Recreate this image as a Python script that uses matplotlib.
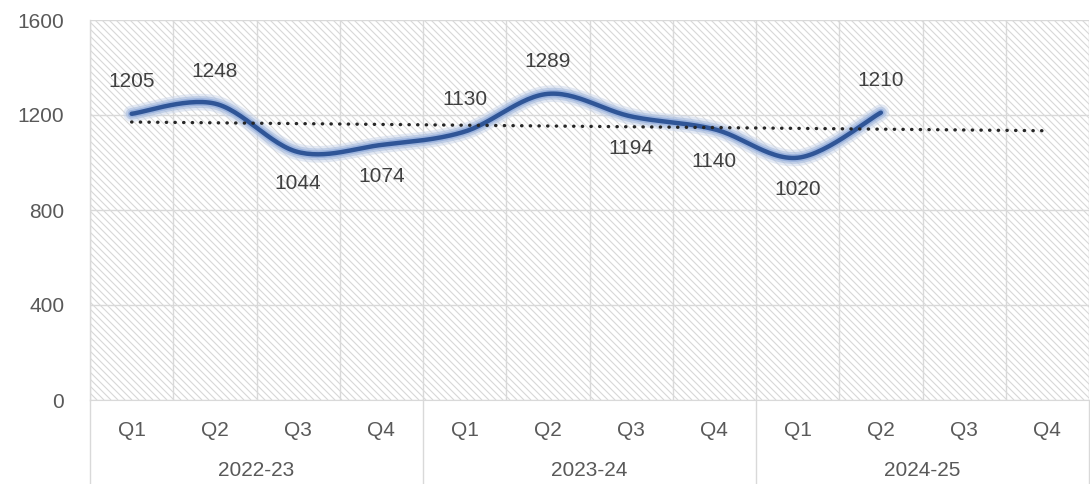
import matplotlib.pyplot as plt
import matplotlib.patheffects as pe
import matplotlib.transforms as mtransforms
from matplotlib.collections import LineCollection
import numpy as np

plt.rcParams['font.family'] = ['Liberation Sans', 'DejaVu Sans']

# data
years = ["2022-23", "2023-24", "2024-25"]
quarters = ["Q1", "Q2", "Q3", "Q4"]
values = [1205, 1248, 1044, 1074, 1130, 1289, 1194, 1140, 1020, 1210]
label_side = ["above", "above", "below", "below", "above", "above", "below", "below", "below", "above"]

n_cat = len(years) * len(quarters)
x = np.arange(len(values))
y = np.array(values, dtype=float)
FS = 15


def smooth(px, py, steps=30):
    # bezier smoothing like the spreadsheet "smoothed line"
    P = np.column_stack([px, py])
    out = [P[0]]
    for i in range(len(P) - 1):
        p0 = P[i - 1] if i > 0 else P[i]
        p1, p2 = P[i], P[i + 1]
        p3 = P[i + 2] if i + 2 < len(P) else P[i + 1]
        c1 = p1 + (p2 - p0) / 6
        c2 = p2 - (p3 - p1) / 6
        t = np.linspace(0, 1, steps)[1:, None]
        seg = (1 - t) ** 3 * p1 + 3 * (1 - t) ** 2 * t * c1 + 3 * (1 - t) * t ** 2 * c2 + t ** 3 * p2
        out.extend(seg)
    out = np.array(out)
    return out[:, 0], out[:, 1]


W, H = 1090, 484
fig = plt.figure(figsize=(W / 100, H / 100), dpi=100)
L, B, T = 90, 400, 20
ax = fig.add_axes([L / W, 1 - B / H, 999 / W, (B - T) / H])

# hatched plot area (display pixel coords)
step = 7
segs = []
for c in np.arange(L - (B - T), W + step, step):
    segs.append([(c, H - T), (c + (B - T), H - B)])
hatch = LineCollection(segs, colors='#d8d8d8', linewidths=0.8, transform=None, zorder=0)
ax.add_collection(hatch)
hatch.set_clip_path(ax.patch)

ax.set_xlim(-0.5, n_cat - 0.5)
ax.set_ylim(0, 1600)
ax.set_yticks([0, 400, 800, 1200, 1600])
ax.set_xticks(np.arange(n_cat))
ax.set_xticklabels(quarters * len(years))
ax.set_xticks(np.arange(-0.5, n_cat, 1), minor=True)
ax.tick_params(axis='both', length=0, labelsize=FS, labelcolor='#595959')
ax.tick_params(axis='x', which='major', pad=15)
ax.tick_params(axis='x', which='minor', length=0)
ax.tick_params(axis='y', pad=18.5)
ax.grid(axis='y', which='major', color='#d9d9d9', linewidth=1, zorder=1)
ax.grid(axis='x', which='minor', color='#d9d9d9', linewidth=1, zorder=1)
ax.set_axisbelow(True)
for s in ['top', 'right', 'left']:
    ax.spines[s].set_visible(False)
ax.spines['bottom'].set_color('#d9d9d9')

# line with glow
sx, sy = smooth(x, y)
ax.plot(sx, sy, color='#2f5597', linewidth=3.2, solid_capstyle='round', zorder=4,
        path_effects=[pe.Stroke(linewidth=12, foreground='#c9d5ea', alpha=0.5),
                      pe.Stroke(linewidth=8.5, foreground='#a9bddf', alpha=0.6),
                      pe.Stroke(linewidth=5.5, foreground='#8ea9db', alpha=0.7),
                      pe.Normal()])

# trend line
coef = np.polyfit(x, y, 1)
tx = np.arange(n_cat)
ax.plot(tx, np.polyval(coef, tx), color='#262626', linewidth=2.4,
        linestyle=(0, (0.1, 2.5)), dash_capstyle='round', zorder=5)

for xi, v, side in zip(x, values, label_side):
    off = 23 if side == "above" else -23
    ax.annotate(str(v), (xi, v), xytext=(0, off), textcoords='offset points',
                ha='center', va='center', fontsize=FS, color='#404040', zorder=6)

# multi-level category axis
trans = mtransforms.blended_transform_factory(ax.transData, ax.transAxes)
drop = -84 / 380
for b in np.arange(-0.5, n_cat + 0.5, len(quarters)):
    ax.plot([b, b], [0, drop], color='#d9d9d9', linewidth=1, transform=trans, clip_on=False)
ax.plot([-0.5, -0.5], [0, 1], color='#d9d9d9', linewidth=1, transform=trans, clip_on=False)
for i, yr in enumerate(years):
    ax.text(i * len(quarters) + 1.5, -70 / 380, yr, transform=trans, ha='center', va='center',
            fontsize=FS, color='#595959')

fig.savefig('out.png', dpi=100)
